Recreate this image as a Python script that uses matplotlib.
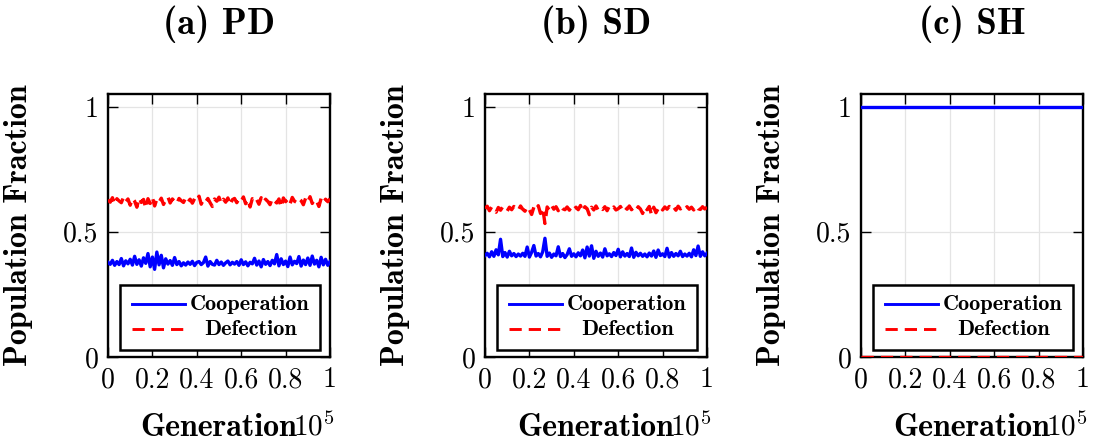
import numpy as np
import matplotlib
matplotlib.use("Agg")
import matplotlib.pyplot as plt
from matplotlib.lines import Line2D
from matplotlib.patches import Rectangle

# ---------------- data ----------------
panel_titles = ["(a) PD", "(b) SD", "(c) SH"]
series_names = ["Cooperation", "Defection"]
xticks = [0, 0.2, 0.4, 0.6, 0.8, 1]
xtick_labels = ["0", "0.2", "0.4", "0.6", "0.8", "1"]
yticks = [0, 0.5, 1]
ytick_labels = ["0", "0.5", "1"]

generation = np.linspace(0, 1, 101)  # in units of 10^5 generations

pd_cooperation = [
    0.378, 0.370, 0.386, 0.366, 0.381, 0.369, 0.393, 0.364, 0.384, 0.372,
    0.390, 0.367, 0.402, 0.370, 0.388, 0.363, 0.396, 0.374, 0.413, 0.360,
    0.399, 0.350, 0.419, 0.368, 0.406, 0.356, 0.392, 0.371, 0.385, 0.366,
    0.397, 0.369, 0.381, 0.364, 0.376, 0.367, 0.379, 0.370, 0.382, 0.365,
    0.378, 0.381, 0.369, 0.377, 0.399, 0.363, 0.381, 0.370, 0.367, 0.386,
    0.369, 0.379, 0.366, 0.376, 0.383, 0.368, 0.378, 0.371, 0.381, 0.366,
    0.388, 0.369, 0.380, 0.364, 0.378, 0.372, 0.394, 0.367, 0.383, 0.360,
    0.389, 0.370, 0.381, 0.365, 0.386, 0.372, 0.409, 0.364, 0.392, 0.369,
    0.383, 0.361, 0.399, 0.368, 0.382, 0.373, 0.401, 0.363, 0.387, 0.369,
    0.395, 0.366, 0.403, 0.371, 0.386, 0.360, 0.398, 0.368, 0.390, 0.366, 0.381]

pd_defection = [
    0.628, 0.618, 0.636, 0.610, 0.632, 0.623, 0.616, 0.638, 0.620, 0.631,
    0.606, 0.633, 0.622, 0.598, 0.635, 0.617, 0.629, 0.594, 0.632, 0.613,
    0.637, 0.603, 0.630, 0.618, 0.634, 0.609, 0.628, 0.639, 0.615, 0.631,
    0.621, 0.612, 0.633, 0.624, 0.617, 0.635, 0.619, 0.630, 0.614, 0.632,
    0.623, 0.642, 0.610, 0.629, 0.620, 0.633, 0.616, 0.601, 0.631, 0.622,
    0.638, 0.613, 0.630, 0.618, 0.635, 0.607, 0.628, 0.633, 0.616, 0.631,
    0.622, 0.639, 0.612, 0.629, 0.599, 0.632, 0.619, 0.628, 0.610, 0.636,
    0.617, 0.630, 0.621, 0.608, 0.633, 0.623, 0.615, 0.631, 0.598, 0.635,
    0.620, 0.630, 0.611, 0.637, 0.622, 0.617, 0.632, 0.624, 0.608, 0.634,
    0.619, 0.640, 0.613, 0.629, 0.622, 0.601, 0.633, 0.617, 0.630, 0.620, 0.632]

sd_cooperation = [
    0.405, 0.414, 0.400, 0.420, 0.402, 0.428, 0.408, 0.470, 0.401, 0.417,
    0.399, 0.422, 0.404, 0.413, 0.401, 0.411, 0.403, 0.414, 0.402, 0.439,
    0.399, 0.418, 0.445, 0.403, 0.413, 0.400, 0.420, 0.474, 0.402, 0.415,
    0.398, 0.411, 0.404, 0.440, 0.401, 0.413, 0.397, 0.409, 0.432, 0.402,
    0.412, 0.400, 0.416, 0.404, 0.427, 0.396, 0.439, 0.403, 0.444, 0.394,
    0.422, 0.402, 0.415, 0.399, 0.432, 0.404, 0.412, 0.401, 0.417, 0.405,
    0.430, 0.400, 0.420, 0.403, 0.413, 0.401, 0.435, 0.398, 0.418, 0.404,
    0.414, 0.402, 0.411, 0.400, 0.415, 0.403, 0.423, 0.398, 0.427, 0.405,
    0.412, 0.401, 0.434, 0.399, 0.417, 0.402, 0.413, 0.404, 0.422, 0.401,
    0.411, 0.403, 0.414, 0.400, 0.428, 0.405, 0.443, 0.402, 0.420, 0.404, 0.414]

sd_defection = [
    0.593, 0.602, 0.584, 0.599, 0.589, 0.578, 0.597, 0.586, 0.600, 0.590,
    0.583, 0.598, 0.588, 0.601, 0.592, 0.585, 0.603, 0.590, 0.582, 0.600,
    0.588, 0.569, 0.598, 0.587, 0.604, 0.573, 0.595, 0.533, 0.599, 0.586,
    0.605, 0.590, 0.600, 0.584, 0.602, 0.592, 0.588, 0.599, 0.586, 0.601,
    0.590, 0.598, 0.588, 0.605, 0.581, 0.600, 0.592, 0.568, 0.598, 0.587,
    0.603, 0.586, 0.597, 0.589, 0.600, 0.584, 0.602, 0.591, 0.599, 0.587,
    0.592, 0.601, 0.585, 0.598, 0.590, 0.603, 0.588, 0.597, 0.586, 0.600,
    0.591, 0.573, 0.599, 0.588, 0.601, 0.568, 0.598, 0.576, 0.592, 0.602,
    0.587, 0.599, 0.590, 0.601, 0.589, 0.598, 0.586, 0.602, 0.591, 0.597,
    0.588, 0.600, 0.590, 0.598, 0.587, 0.603, 0.592, 0.589, 0.600, 0.591, 0.598]

sh_generation = [0.0, 1.0]
sh_cooperation = [1.0, 1.0]
sh_defection = [0.0, 0.0]

panels = [
    (generation, pd_cooperation, pd_defection),
    (generation, sd_cooperation, sd_defection),
    (sh_generation, sh_cooperation, sh_defection),
]

# ---------------- style ----------------
plt.rcParams["font.family"] = "cmr10"
plt.rcParams["mathtext.fontset"] = "cm"
plt.rcParams["axes.formatter.use_mathtext"] = True

W, H = 1094, 440
fig = plt.figure(figsize=(W / 100, H / 100), dpi=100)

ax_lefts = [108, 485, 861]
ax_w, ax_top, ax_bot = 222, 94, 357

coop_color = "#0000ff"
def_color = "#ff0000"
bold = "cmb10"
line_w = 2.4
leg_w = 2.1
dash = (4.2, 2.4)

for i, (x, coop, defe) in enumerate(panels):
    ax = fig.add_axes([ax_lefts[i] / W, (H - ax_bot) / H, ax_w / W, (ax_bot - ax_top) / H])
    ax.plot(x, coop, color=coop_color, lw=line_w, zorder=3, label=series_names[0])
    ax.plot(x, defe, color=def_color, lw=line_w, dashes=(3.7, 2.1), zorder=3,
            label=series_names[1])
    ax.set_xlim(0, 1)
    ax.set_ylim(0, 1.05)
    ax.set_xticks(xticks)
    ax.set_xticklabels(xtick_labels)
    ax.set_yticks(yticks)
    ax.set_yticklabels(ytick_labels)
    ax.tick_params(direction="in", length=7, width=1.0, top=True, right=True,
                   labelsize=20, pad=7)
    ax.grid(True, color="#e4e4e4", lw=0.9)
    ax.set_axisbelow(True)
    for s in ax.spines.values():
        s.set_linewidth(1.7)

    ax.set_title(panel_titles[i], fontsize=26.5, family=bold, y=1.266, va="center", pad=0)
    ax.set_ylabel("Population Fraction", fontsize=23, family=bold)
    ax.yaxis.set_label_coords(-0.338, 0.5)
    ax.set_xlabel("Generation", fontsize=23, family=bold)
    ax.xaxis.label.set_va("baseline")
    ax.xaxis.set_label_coords(0.5, -0.300)
    ax.text(1.022, -0.300, r"$10^{5}$", transform=ax.transAxes, ha="right",
            va="baseline", fontsize=21)

    # legend box (centred texts, pgfplots style)
    ax.add_patch(Rectangle((0.054, 0.027), 0.901, 0.247, transform=ax.transAxes,
                           fc="white", ec="black", lw=1.8, zorder=5))
    rows = [0.2015, 0.106]
    colors = [coop_color, def_color]
    for r, (yy, c, name) in enumerate(zip(rows, colors, series_names)):
        kw = dict(color=c, lw=leg_w, zorder=6, transform=ax.transAxes)
        if r == 1:
            kw["dashes"] = dash
        ax.add_line(Line2D([0.108, 0.347], [yy, yy], **kw))
        ax.text(0.64, yy, name, transform=ax.transAxes, ha="center", va="center",
                fontsize=16, family=bold, zorder=7)

fig.savefig("out.png", dpi=100)
